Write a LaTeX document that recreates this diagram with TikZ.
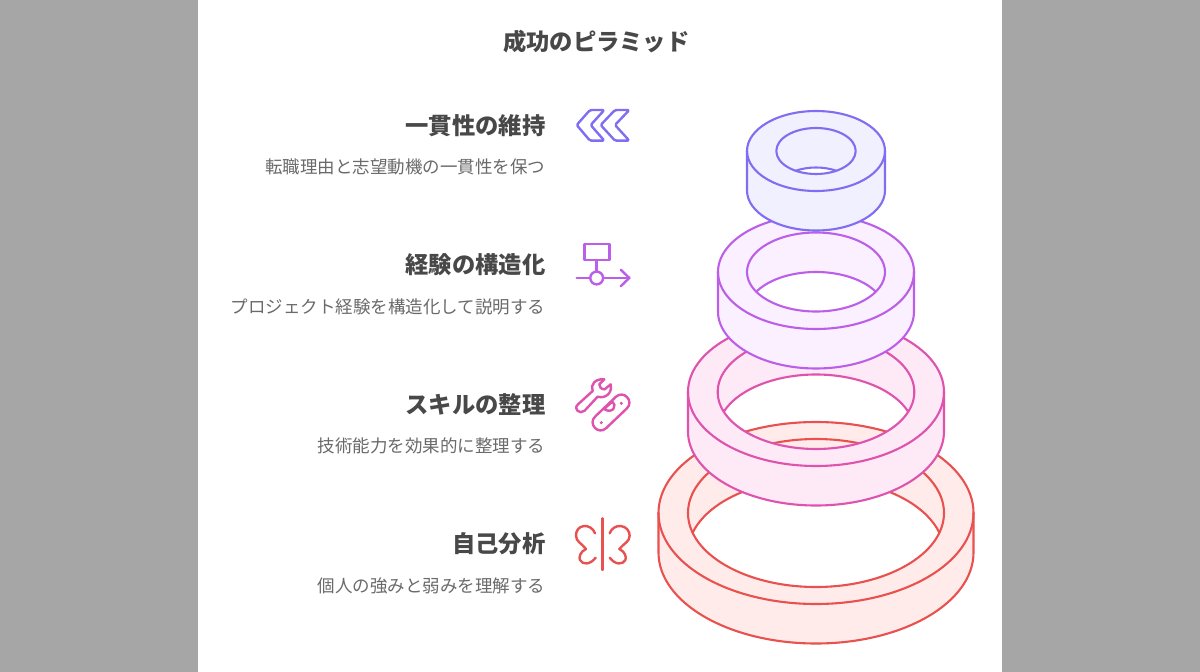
\documentclass[tikz,border=0pt]{standalone}
\usepackage{fontspec}
\setmainfont{Noto Sans CJK JP}
\definecolor{sidegray}{HTML}{A6A6A6}
\definecolor{headc}{HTML}{484848}
\definecolor{subc}{HTML}{6A6A6A}
\definecolor{vA}{HTML}{7F6DF2}\definecolor{vAf}{HTML}{F1F0FE}
\definecolor{vB}{HTML}{BC5FE8}\definecolor{vBf}{HTML}{FAF0FF}
\definecolor{vC}{HTML}{DF52AD}\definecolor{vCf}{HTML}{FEEAF7}
\definecolor{vD}{HTML}{E8514F}\definecolor{vDf}{HTML}{FFECEA}
\tikzset{
  titletext/.style={anchor=center,text=headc,font=\bfseries\fontsize{23.3}{28}\selectfont,inner sep=0pt},
  headtext/.style={anchor=east,text=headc,font=\bfseries\fontsize{23.3}{28}\selectfont,inner sep=0pt},
  subtext/.style={anchor=east,text=subc,font=\fontsize{17.5}{22}\selectfont,inner sep=0pt},
  ringline/.style={line width=2.1pt,line join=round,line cap=round},
  iconline/.style={line width=2.4pt,line join=round,line cap=round},
}
% cy, A, B, a, b, d, stroke, fill
\newcommand{\ringdraw}[8]{%
  \pgfmathsetmacro\ralpha{asin((#6/2)/#5)}%
  \pgfmathsetmacro\rlx{816-#4*cos(\ralpha)}%
  \pgfmathsetmacro\rly{#1+#6/2}%
  \pgfmathsetmacro\rsl{180-\ralpha}%
  \pgfmathsetmacro\rsm{-\ralpha}%
  \pgfmathsetmacro\rsr{\ralpha-180}%
  \pgfmathsetmacro\rl{816-#2}\pgfmathsetmacro\rr{816+#2}\pgfmathsetmacro\rb{#1+#6}%
  \fill[#8,even odd rule]
    (\rl,#1) arc[start angle=180,end angle=0,x radius=#2 pt,y radius=#3 pt]
    -- (\rr,\rb) arc[start angle=0,end angle=-180,x radius=#2 pt,y radius=#3 pt] -- cycle
    (\rlx,\rly) arc[start angle=\rsl,end angle=\ralpha,x radius=#4 pt,y radius=#5 pt]
    arc[start angle=\rsm,end angle=\rsr,x radius=#4 pt,y radius=#5 pt] -- cycle;
  \draw[ringline,#7] (816,#1) ellipse[x radius=#2 pt,y radius=#3 pt];
  \draw[ringline,#7] (816,#1) ellipse[x radius=#4 pt,y radius=#5 pt];
  \draw[ringline,#7] (\rl,#1) -- (\rl,\rb) arc[start angle=180,end angle=360,x radius=#2 pt,y radius=#3 pt] -- (\rr,#1);
  \draw[ringline,#7] (\rlx,\rly) arc[start angle=\rsl,end angle=\ralpha,x radius=#4 pt,y radius=#5 pt];
}
\begin{document}
\begin{tikzpicture}[x=1pt,y=-1pt]
\useasboundingbox (0,0) rectangle (1200,672);
\fill[sidegray] (0,0) rectangle (1200,672);
\fill[white] (197.5,0) rectangle (1002,672);
\node[titletext] (title) at (596.3,41.3) {成功のピラミッド};
\node[headtext] (h1) at (545.5,125.4) {一貫性の維持};
\node[subtext] (s1) at (545.6,167.3) {転職理由と志望動機の一貫性を保つ};
\node[headtext] (h2) at (545.5,264.4) {経験の構造化};
\node[subtext] (s2) at (545.6,307.3) {プロジェクト経験を構造化して説明する};
\node[headtext] (h3) at (545.5,404.4) {スキルの整理};
\node[subtext] (s3) at (545.6,446.3) {技術能力を効果的に整理する};
\node[headtext] (h4) at (545.5,543.4) {自己分析};
\node[subtext] (s4) at (545.6,586.3) {個人の強みと弱みを理解する};
% rings
\ringdraw{513}{157.5}{91}{128}{74}{39.5}{vD}{vDf}
\ringdraw{392}{128}{74}{98.3}{57}{39.5}{vC}{vCf}
\ringdraw{272}{98}{57}{69}{39.5}{39.5}{vB}{vBf}
\ringdraw{151}{69}{40}{39.7}{23}{39.5}{vA}{vAf}
% chevrons
\begin{scope}[shift={(560,95)},x=0.3333pt,y=-0.3333pt,iconline,vA,rounded corners=1.5pt]
  \draw (50,90) -- (90,45) -- (133,45) -- (92,90) -- (133,137) -- (90,137) -- cycle;
  \draw (122,90) -- (165,45) -- (208,45) -- (165,90) -- (208,137) -- (165,137) -- cycle;
\end{scope}
% flow icon
\begin{scope}[shift={(560,95)},x=0.3333pt,y=-0.3333pt,iconline,vB]
  \draw (73,447) rectangle (148,495);
  \draw (110,495) -- (110,530);
  \draw (110,549) circle[radius=6.4pt];
  \draw (50,549) -- (90,549);
  \draw (130,549) -- (208,549);
  \draw (182,524) -- (208,549) -- (182,574);
\end{scope}
% tools icon
\begin{scope}[shift={(560,365)},x=0.3333pt,y=-0.3333pt,iconline,vC]
  \draw (54,118) -- (98,78) .. controls (90,60) and (105,40) .. (133,43)
     -- (118,58) .. controls (117,66) and (124,73) .. (134,73)
     -- (152,58) .. controls (158,85) and (135,102) .. (113,95)
     -- (74,137) .. controls (60,150) and (38,132) .. (54,118) -- cycle;
  \draw (105.5,154.6) -- (167.5,95.6) .. controls (190.5,73.6) and (223.5,108.4) .. (200.5,130.4)
     -- (138.5,189.4) .. controls (115.5,211.4) and (82.5,176.6) .. (105.5,154.6) -- cycle;
  \draw (132,132) -- (157,110) .. controls (172,118) and (160,150) .. (132,132) -- cycle;
  \fill (124,173) circle[radius=1.7pt];
  \fill (184,115) circle[radius=1.7pt];
\end{scope}
% butterfly icon
\begin{scope}[shift={(560,365)},x=0.3333pt,y=-0.3333pt,iconline,vD]
  \draw (127,460) -- (127,615);
  \draw (105,505) .. controls (100,490) and (85,482) .. (72,483)
     .. controls (55,485) and (48,498) .. (48,512)
     .. controls (48,530) and (65,535) .. (78,552)
     .. controls (60,560) and (56,578) .. (60,585)
     .. controls (68,600) and (90,600) .. (107,578);
  \draw (149,505) .. controls (154,490) and (169,482) .. (182,483)
     .. controls (199,485) and (209,498) .. (209,512)
     .. controls (209,530) and (192,535) .. (178,552)
     .. controls (196,560) and (200,578) .. (196,585)
     .. controls (188,600) and (166,600) .. (149,578);
\end{scope}
\end{tikzpicture}
\end{document}
